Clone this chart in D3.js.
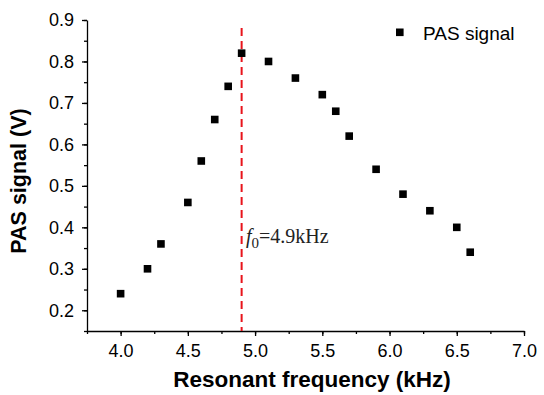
<!DOCTYPE html>
<html>
<head>
<meta charset="utf-8">
<script src="https://cdn.jsdelivr.net/npm/d3@7"></script>
<style>
  body { margin: 0; background: #fff; }
  svg { font-family: "Liberation Sans", Arial, sans-serif; }
</style>
</head>
<body>
<svg width="544" height="395"></svg>
<script>
// PAS signal vs resonant frequency
var freq = [4.0, 4.2, 4.3, 4.5, 4.6, 4.7, 4.8, 4.9, 5.1, 5.3, 5.5, 5.6, 5.7, 5.9, 6.1, 6.3, 6.5, 6.6];
var signal = [0.24, 0.30, 0.36, 0.46, 0.56, 0.66, 0.74, 0.82, 0.80, 0.76, 0.72, 0.68, 0.62, 0.54, 0.48, 0.44, 0.40, 0.34];
var xTicks = [4.0, 4.5, 5.0, 5.5, 6.0, 6.5, 7.0];
var yTicks = [0.2, 0.3, 0.4, 0.5, 0.6, 0.7, 0.8, 0.9];
var resonance = 4.9;

var svg = d3.select("svg");

var x = d3.scaleLinear().domain([3.75, 7.0]).range([87, 524]);
var y = d3.scaleLinear().domain([0.15, 0.9]).range([331, 20]);

var data = freq.map(function(f, i) { return {f: f, v: signal[i]}; });

// minor ticks first, then the labelled ones
svg.append("g")
    .attr("transform", "translate(0,331)")
    .call(d3.axisBottom(x).tickValues(d3.range(3.75, 7.01, 0.25)).tickSize(3).tickFormat(""))
    .call(function(g) { g.select(".domain").remove(); });

svg.append("g")
    .attr("transform", "translate(87,0)")
    .call(d3.axisLeft(y).tickValues(d3.range(0.15, 0.901, 0.05)).tickSize(3).tickFormat(""))
    .call(function(g) { g.select(".domain").remove(); });

svg.append("g")
    .attr("transform", "translate(0,331)")
    .call(d3.axisBottom(x).tickValues(xTicks).tickSize(5).tickSizeOuter(0).tickPadding(8).tickFormat(d3.format(".1f")));

svg.append("g")
    .attr("transform", "translate(87,0)")
    .call(d3.axisLeft(y).tickValues(yTicks).tickSize(5).tickSizeOuter(0).tickPadding(8).tickFormat(d3.format(".1f")));

svg.selectAll(".tick text")
    .attr("font-size", 18)
    .attr("font-family", "Liberation Sans, Arial, sans-serif")
    .attr("fill", "#000");
svg.selectAll(".domain, .tick line").attr("stroke", "#000").attr("stroke-width", 1.3);

// resonance marker
svg.append("line")
    .attr("x1", x(resonance)).attr("x2", x(resonance))
    .attr("y1", 28).attr("y2", 331)
    .attr("stroke", "#e8141b")
    .attr("stroke-width", 2)
    .attr("stroke-dasharray", "8,5");

svg.selectAll("rect.pt")
    .data(data)
    .enter().append("rect")
    .attr("class", "pt")
    .attr("x", function(d) { return x(d.f) - 3.8; })
    .attr("y", function(d) { return y(d.v) - 3.8; })
    .attr("width", 7.6)
    .attr("height", 7.6)
    .attr("fill", "#000");

// annotation
var ann = svg.append("text")
    .attr("x", 246).attr("y", 243)
    .attr("font-family", "Liberation Serif, Times New Roman, serif")
    .attr("font-size", 20)
    .attr("fill", "#222");
ann.append("tspan").attr("font-style", "italic").text("f");
ann.append("tspan").attr("dy", 5).attr("font-size", 15).text("0");
ann.append("tspan").attr("dy", -5).text("=4.9kHz");

// legend
svg.append("rect")
    .attr("x", 396).attr("y", 28.5)
    .attr("width", 7.6).attr("height", 7.6)
    .attr("fill", "#000");
svg.append("text")
    .attr("x", 423).attr("y", 40)
    .attr("font-size", 19)
    .text("PAS signal");

// axis titles
svg.append("text")
    .attr("x", 312).attr("y", 387)
    .attr("text-anchor", "middle")
    .attr("font-size", 22.5)
    .attr("font-weight", "bold")
    .text("Resonant frequency (kHz)");

svg.append("text")
    .attr("transform", "translate(26,181) rotate(-90)")
    .attr("text-anchor", "middle")
    .attr("font-size", 21.5)
    .attr("font-weight", "bold")
    .text("PAS signal (V)");
</script>
</body>
</html>
